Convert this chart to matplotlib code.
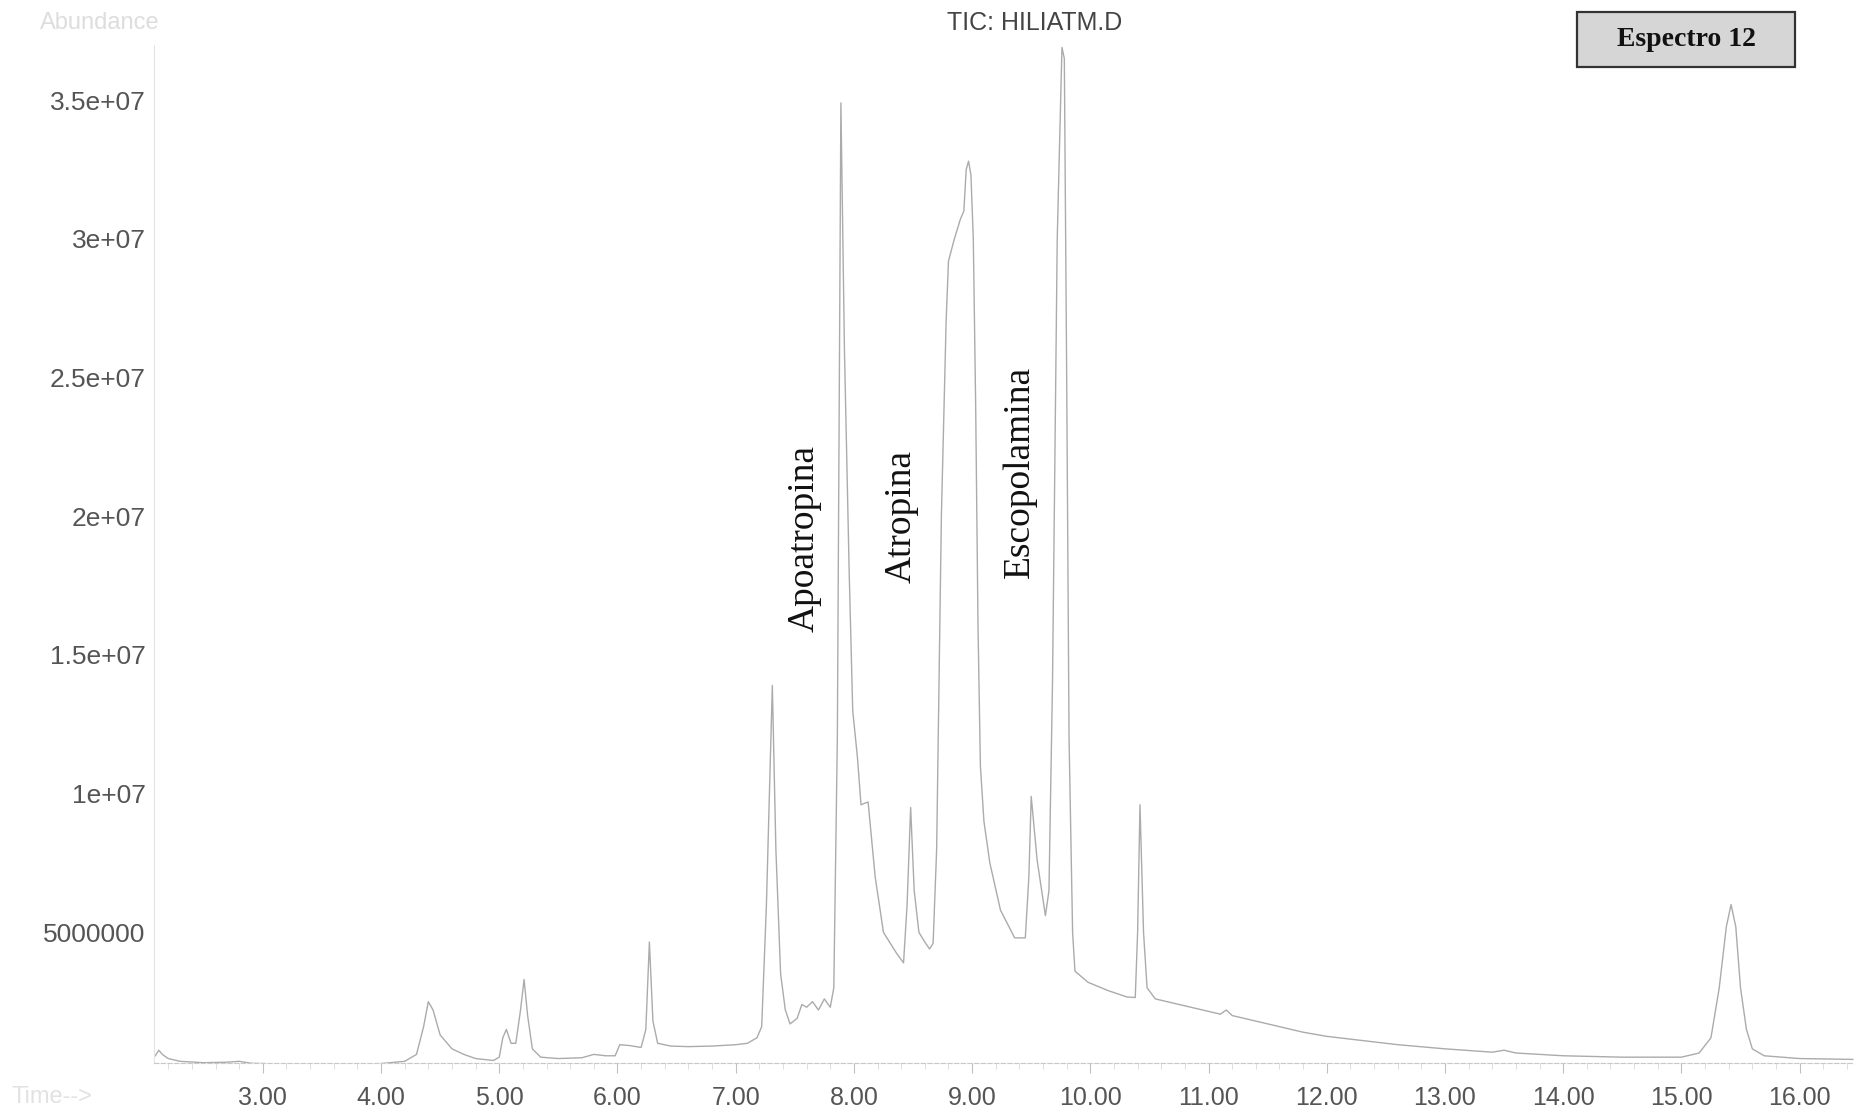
import numpy as np
import matplotlib
matplotlib.use("Agg")
import matplotlib.pyplot as plt
from matplotlib.patches import Rectangle
from matplotlib.ticker import MultipleLocator

tiempo = [2.09, 2.12, 2.15, 2.20, 2.30, 2.50, 2.70, 2.80, 2.90, 3.20, 3.50, 3.80,
          4.00, 4.20, 4.30, 4.36, 4.40, 4.44, 4.50, 4.60, 4.70, 4.80, 4.95, 5.00,
          5.03, 5.06, 5.10, 5.14, 5.18, 5.21, 5.24, 5.28, 5.35, 5.50, 5.70, 5.80,
          5.90, 5.98, 6.02, 6.10, 6.20, 6.24, 6.27, 6.30, 6.34, 6.45, 6.60, 6.80,
          7.00, 7.10, 7.18, 7.22, 7.26, 7.31, 7.34, 7.38, 7.42, 7.46, 7.52, 7.56,
          7.60, 7.65, 7.70, 7.75, 7.80, 7.83, 7.86, 7.89, 7.92, 7.96, 7.99, 8.03,
          8.06, 8.12, 8.18, 8.25, 8.36, 8.42, 8.45, 8.48, 8.51, 8.55, 8.60, 8.64,
          8.67, 8.70, 8.74, 8.78, 8.80, 8.85, 8.90, 8.93, 8.95, 8.97, 8.99, 9.01,
          9.03, 9.05, 9.07, 9.10, 9.15, 9.24, 9.36, 9.45, 9.48, 9.50, 9.55, 9.62,
          9.65, 9.68, 9.72, 9.76, 9.78, 9.80, 9.82, 9.85, 9.87, 9.98, 10.15, 10.31,
          10.38, 10.40, 10.42, 10.45, 10.48, 10.55, 10.70, 10.85, 11.00, 11.10, 11.15, 11.20,
          11.40, 11.60, 11.80, 12.00, 12.30, 12.60, 13.00, 13.40, 13.50, 13.60, 14.00, 14.50,
          15.00, 15.15, 15.25, 15.32, 15.38, 15.42, 15.46, 15.50, 15.55, 15.60, 15.70, 16.00,
          16.45]
abund_M = [0.55, 0.75, 0.60, 0.45, 0.35, 0.30, 0.32, 0.35, 0.28, 0.25, 0.25, 0.25,
           0.27, 0.35, 0.60, 1.60, 2.50, 2.20, 1.30, 0.80, 0.60, 0.45, 0.38, 0.50,
           1.20, 1.50, 1.00, 1.00, 2.20, 3.30, 2.00, 0.80, 0.50, 0.45, 0.48, 0.60,
           0.55, 0.55, 0.95, 0.92, 0.85, 1.50, 4.65, 1.80, 1.00, 0.90, 0.88, 0.90,
           0.95, 1.00, 1.20, 1.60, 6.0, 13.9, 8.0, 3.5, 2.2, 1.7, 1.9, 2.4,
           2.3, 2.5, 2.2, 2.6, 2.3, 3.0, 12.0, 34.9, 26.0, 18.0, 13.0, 11.3,
           9.6, 9.7, 7.0, 5.0, 4.25, 3.9, 6.0, 9.5, 6.5, 5.0, 4.65, 4.4,
           4.6, 8.0, 20.0, 27.0, 29.2, 30.0, 30.7, 31.0, 32.5, 32.8, 32.3, 30.0,
           24.0, 16.0, 11.0, 9.0, 7.5, 5.8, 4.8, 4.8, 7.0, 9.9, 7.6, 5.6,
           6.5, 14.0, 30.0, 36.9, 36.5, 25.0, 12.0, 5.0, 3.6, 3.2, 2.9, 2.67,
           2.65, 5.0, 9.6, 5.0, 3.0, 2.6, 2.45, 2.3, 2.15, 2.05, 2.2, 2.0,
           1.8, 1.6, 1.4, 1.25, 1.1, 0.95, 0.8, 0.68, 0.75, 0.65, 0.55, 0.50,
           0.50, 0.65, 1.2, 3.0, 5.2, 6.0, 5.2, 3.0, 1.5, 0.8, 0.55, 0.45,
           0.42]

# etiquetas de los compuestos: (texto, tiempo, abundancia en millones)
compuestos = ["Apoatropina", "Atropina", "Escopolamina"]
comp_t = [7.58, 8.40, 9.40]
comp_y = [19.2, 20.0, 21.6]

xticks = [3, 4, 5, 6, 7, 8, 9, 10, 11, 12, 13, 14, 15, 16]
yticks = [5e6, 1e7, 1.5e7, 2e7, 2.5e7, 3e7, 3.5e7]
ytick_labels = ["5000000", "1e+07", "1.5e+07", "2e+07", "2.5e+07", "3e+07", "3.5e+07"]

t = np.array(tiempo)
y = np.array(abund_M) * 1e6

fig = plt.figure(figsize=(18.54, 11.19), dpi=100)
ax = fig.add_axes([0.0831, 0.0503, 0.9169, 0.9098])

ax.plot(t, y, color="#ababab", lw=1.0)

ax.set_xlim(2.08, 16.46)
ax.set_ylim(0.3e6, 37.0e6)

ax.set_xticks(xticks)
ax.set_xticklabels(["%.2f" % v for v in xticks])
ax.xaxis.set_minor_locator(MultipleLocator(0.2))
ax.set_yticks(yticks)
ax.set_yticklabels(ytick_labels)

for s in ["top", "right"]:
    ax.spines[s].set_visible(False)
ax.spines["left"].set_color("#e4e4e4")
ax.spines["bottom"].set_color("#c8c8c8")
ax.spines["bottom"].set_linestyle((0, (4, 2)))

ax.tick_params(axis="x", which="major", length=7, color="#c0c0c0", pad=10,
               labelsize=18, labelcolor="#555555")
ax.tick_params(axis="x", which="minor", length=4, color="#d8d8d8")
ax.tick_params(axis="y", length=0, pad=6, labelsize=19, labelcolor="#555555")
for lb in ax.get_xticklabels() + ax.get_yticklabels():
    lb.set_family("Liberation Sans")

for nombre, xt, yt in zip(compuestos, comp_t, comp_y):
    ax.text(xt, yt * 1e6, nombre, rotation=90, ha="center", va="center",
            family="Liberation Serif", fontsize=27, color="#111111")

fig.text(0.558, 0.979, "TIC: HILIATM.D", ha="center", va="center",
         family="Liberation Sans", fontsize=18, color="#444444")
fig.text(0.054, 0.979, "Abundance", ha="center", va="center",
         family="Liberation Sans", fontsize=17, color="#dddddd")
fig.text(0.006, 0.020, "Time-->", ha="left", va="center",
         family="Liberation Sans", fontsize=17, color="#e2e2e2")

# recuadro "Espectro 12"
fig.patches.append(Rectangle((1577 / 1854, 1 - 67 / 1119), 218 / 1854, 55 / 1119,
                             transform=fig.transFigure, facecolor="#d6d6d6",
                             edgecolor="#333333", lw=1.6))
fig.text(0.9094, 0.9647, "Espectro 12", ha="center", va="center",
         family="Liberation Serif", fontweight="bold", fontsize=20, color="#111111")

fig.savefig("out.png", dpi=100)
